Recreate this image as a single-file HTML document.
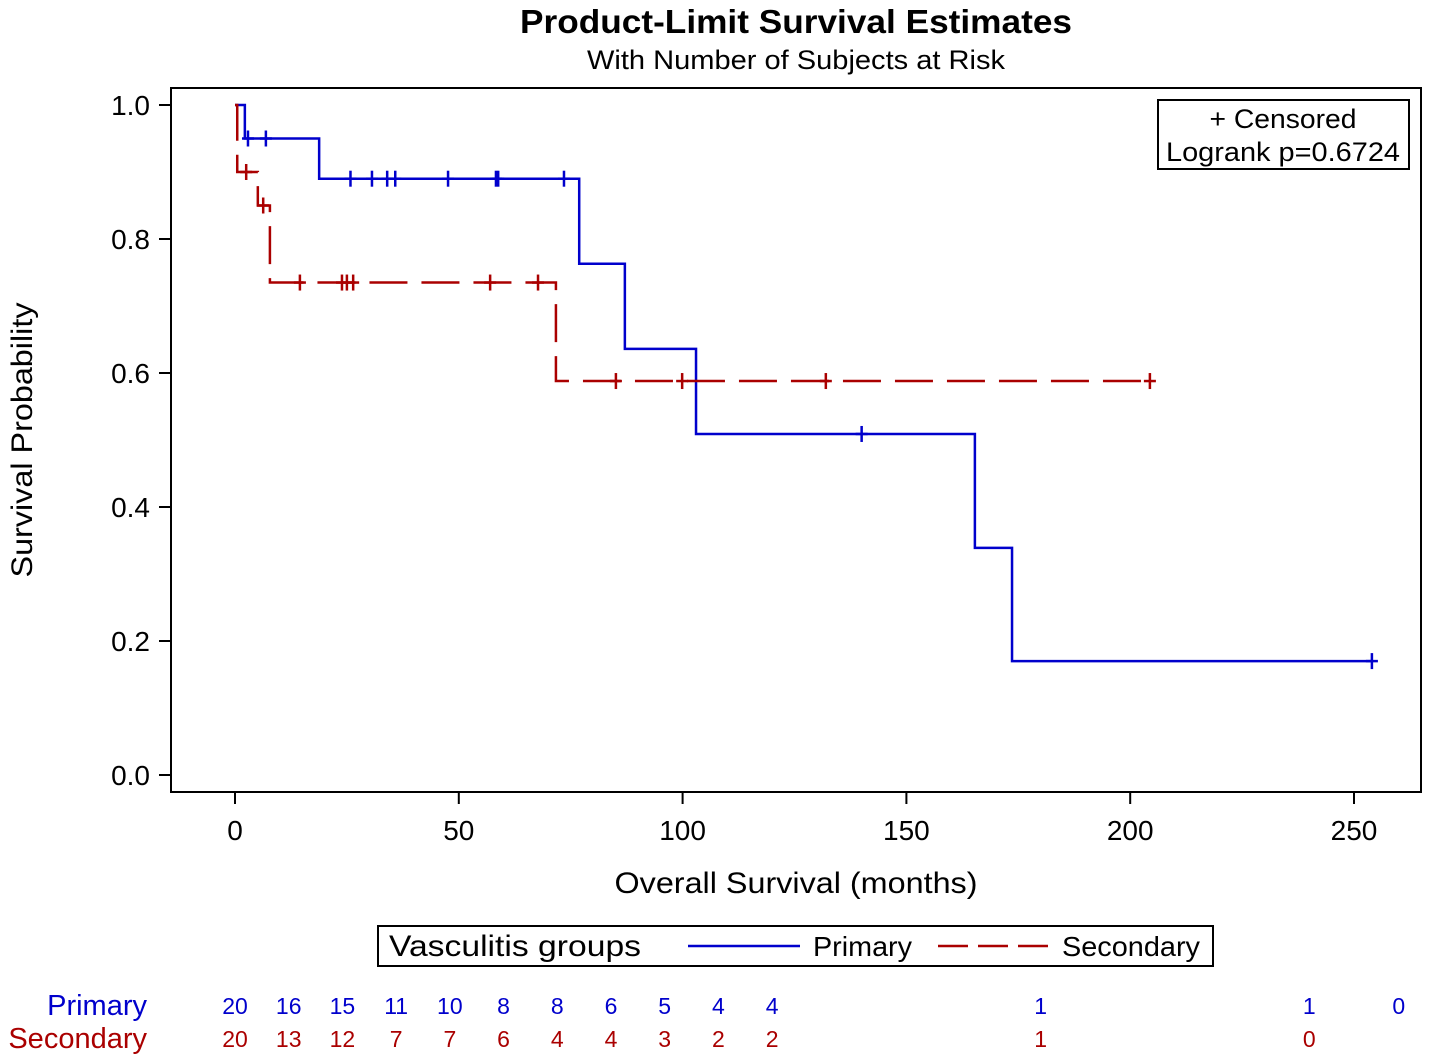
<!DOCTYPE html>
<html><head><meta charset="utf-8"><style>
body{margin:0;background:#fff}
svg{display:block;font-family:"Liberation Sans",Arial,sans-serif}
</style></head><body>
<svg id="chart" width="1430" height="1063" viewBox="0 0 1430 1063">
<rect width="1430" height="1063" fill="#fff"/>
<text x="796" y="33" font-size="33" font-weight="bold" text-anchor="middle" textLength="552" lengthAdjust="spacingAndGlyphs">Product-Limit Survival Estimates</text>
<text x="796" y="69" font-size="27" text-anchor="middle" textLength="418" lengthAdjust="spacingAndGlyphs">With Number of Subjects at Risk</text>
<rect x="171" y="88" width="1250" height="704" fill="none" stroke="#000" stroke-width="2"/>
<g id="axes"></g>
<g id="series"></g>
<text transform="translate(32,440) rotate(-90)" font-size="30" text-anchor="middle" textLength="275" lengthAdjust="spacingAndGlyphs">Survival Probability</text>
<text x="796" y="893" font-size="30" text-anchor="middle" textLength="363" lengthAdjust="spacingAndGlyphs">Overall Survival (months)</text>
<g>
<rect x="1158" y="100" width="251" height="69" fill="#fff" stroke="#000" stroke-width="2"/>
<text x="1283" y="128" font-size="27" text-anchor="middle" textLength="147" lengthAdjust="spacingAndGlyphs">+ Censored</text>
<text x="1283" y="161" font-size="27" text-anchor="middle" textLength="234" lengthAdjust="spacingAndGlyphs">Logrank p=0.6724</text>
</g>
<g>
<rect x="378" y="926" width="835" height="40" fill="#fff" stroke="#000" stroke-width="2"/>
<text x="389" y="956" font-size="30" textLength="252" lengthAdjust="spacingAndGlyphs">Vasculitis  groups</text>
<line x1="688" y1="946" x2="800" y2="946" stroke="#0000cc" stroke-width="2.5"/>
<text x="813" y="956" font-size="28" textLength="99" lengthAdjust="spacingAndGlyphs">Primary</text>
<line x1="938" y1="946" x2="1050" y2="946" stroke="#aa0000" stroke-width="2.5" stroke-dasharray="30 10"/>
<text x="1062" y="956" font-size="28" textLength="138" lengthAdjust="spacingAndGlyphs">Secondary</text>
</g>
<g id="risk"></g>
</svg>
<script>
const xTicks=[0,50,100,150,200,250];
const yTicks=[0.0,0.2,0.4,0.6,0.8,1.0];
const priTimes=[0,2.2,18.8,76.9,87.1,103,165.3,173.6];
const priSurv=[1.0,0.95,0.89,0.763,0.636,0.509,0.339,0.17];
const priEnd=254;
const priCens=[2.9,6.9,25.8,30.6,34,35.8,47.6,58.3,58.8,73.5,140,254];
const secTimes=[0,0.5,5.1,7.8,71.7];
const secSurv=[1.0,0.9,0.85,0.735,0.588];
const secEnd=204.4;
const secCens=[2.5,6.3,14.5,23.9,25,26.4,57,67.7,85.1,99.9,132,204.4];
const riskTimes=[0,12,24,36,48,60,72,84,96,108,120,180,240,260];
const priRisk=[20,16,15,11,10,8,8,6,5,4,4,1,1,0];
const secRisk=[20,13,12,7,7,6,4,4,3,2,2,1,0,null];

const NS='http://www.w3.org/2000/svg';
const X=t=>235+t*4.476;
const Y=s=>775-s*670;
function mk(tag,attrs,parent){const e=document.createElementNS(NS,tag);for(const k in attrs)e.setAttribute(k,attrs[k]);parent.appendChild(e);return e;}
const axes=document.getElementById('axes');
xTicks.forEach(t=>{
  const l=mk('line',{x1:X(t),x2:X(t),y1:792,y2:804,stroke:'#000','stroke-width':2},axes);
  
  
  const tx=mk('text',{x:X(t),y:840,'font-size':28,'text-anchor':'middle'},axes);tx.textContent=t;
  
  
});
yTicks.forEach(v=>{
  const l=mk('line',{x1:159,x2:171,y1:Y(v),y2:Y(v),stroke:'#000','stroke-width':2},axes);
  
  
  const tx=mk('text',{x:150,y:Y(v)+10,'font-size':28,'text-anchor':'end'},axes);tx.textContent=v.toFixed(1);
  
  
});
function stepPath(times,surv,end){
  let d='M'+X(times[0])+' '+Y(surv[0]);
  for(let i=1;i<times.length;i++){d+=' H'+X(times[i])+' V'+Y(surv[i]);}
  d+=' H'+X(end);return d;
}
function survAt(times,surv,t){let s=surv[0];for(let i=0;i<times.length;i++)if(times[i]<=t)s=surv[i];return s;}
const ser=document.getElementById('series');
const p1=mk('path',{d:stepPath(priTimes,priSurv,priEnd),fill:'none',stroke:'#0000cc','stroke-width':2.5},ser);


const p2=mk('path',{d:stepPath(secTimes,secSurv,secEnd),fill:'none',stroke:'#aa0000','stroke-width':2.5,'stroke-dasharray':'38 14'},ser);


function cens(list,times,surv,col,name){
  list.forEach(t=>{const x=X(t),y=Y(survAt(times,surv,t));
    const l=mk('line',{x1:x,x2:x,y1:y-8,y2:y+8,stroke:col,'stroke-width':2.5},ser);
    
    
    const h=mk('line',{x1:x-6,x2:x+6,y1:y,y2:y,stroke:col,'stroke-width':2.5},ser);
    
    
  });
}
cens(priCens,priTimes,priSurv,'#0000cc','primary-censor');
cens(secCens,secTimes,secSurv,'#aa0000','secondary-censor');
const risk=document.getElementById('risk');
const l1=mk('text',{x:147,y:1015,'font-size':29,'text-anchor':'end',fill:'#0000cc'},risk);l1.textContent='Primary';


const l2=mk('text',{x:147,y:1048,'font-size':29,'text-anchor':'end',fill:'#aa0000'},risk);l2.textContent='Secondary';


riskTimes.forEach((t,i)=>{
  if(priRisk[i]!=null){const a=mk('text',{x:X(t),y:1014,'font-size':23,'text-anchor':'middle',fill:'#0000cc'},risk);a.textContent=priRisk[i];
  
  }
  if(secRisk[i]!=null){const b=mk('text',{x:X(t),y:1047,'font-size':23,'text-anchor':'middle',fill:'#aa0000'},risk);b.textContent=secRisk[i];
  
  }
});
</script>
</body></html>
